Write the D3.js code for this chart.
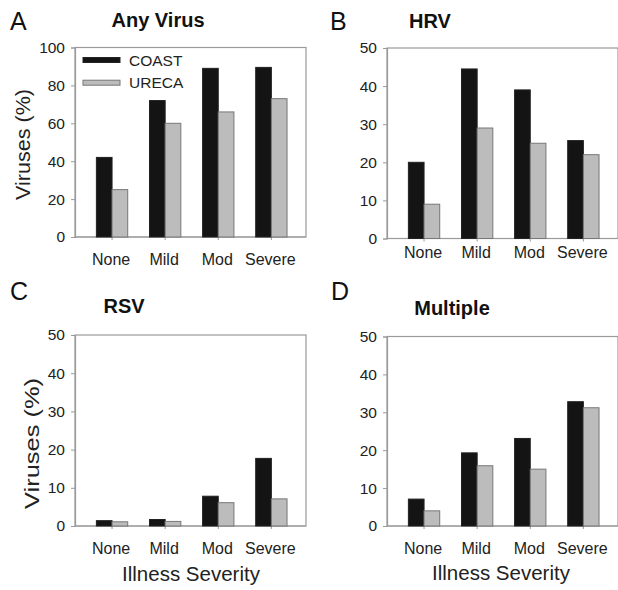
<!DOCTYPE html>
<html>
<head>
<meta charset="utf-8">
<script src="https://cdn.jsdelivr.net/npm/d3@7"></script>
<style>
  html, body { margin: 0; padding: 0; background: #fff; }
  svg { display: block; font-family: "Liberation Sans", Arial, sans-serif; }
</style>
</head>
<body>
<svg id="chart" width="618" height="590"></svg>
<script>
// ---- data ----
const categories = ["None", "Mild", "Mod", "Severe"];
const seriesNames = ["COAST", "URECA"];
const panelLetters = ["A", "B", "C", "D"];
const panelTitles = ["Any Virus", "HRV", "RSV", "Multiple"];
const yMaxes = [100, 50, 50, 50];
const yTicksA = [0, 20, 40, 60, 80, 100];
const yTicksOther = [0, 10, 20, 30, 40, 50];

const coastAny = [42, 72, 89, 89.5];
const urecaAny = [25, 60, 66, 73];
const coastHRV = [20, 44.5, 39, 25.7];
const urecaHRV = [9, 29, 25, 22];
const coastRSV = [1.4, 1.7, 7.8, 17.7];
const urecaRSV = [1.1, 1.2, 6.1, 7.1];
const coastMultiple = [7.1, 19.3, 23.1, 32.8];
const urecaMultiple = [4, 15.9, 15, 31.2];

const yLabel = "Viruses (%)";
const xLabel = "Illness Severity";

// ---- layout ----
const panels = [
  { left: 75,  right: 306, top: 47.5, bottom: 237,   coast: coastAny, ureca: urecaAny, ticks: yTicksA,
    letterX: 10, letterY: 30, titleX: 158, titleY: 27, xlabOff: 26, yLab: { x: 30, y: 144.5, size: 20, len: 111 }, legend: true },
  { left: 387, right: 618, top: 48,   bottom: 238.5, coast: coastHRV, ureca: urecaHRV, ticks: yTicksOther,
    letterX: 330, letterY: 30, titleX: 430, titleY: 28, xlabOff: 17, yLab: null },
  { left: 75,  right: 306, top: 335,  bottom: 526,   coast: coastRSV, ureca: urecaRSV, ticks: yTicksOther,
    letterX: 10, letterY: 300, titleX: 124, titleY: 313, xlabOff: 26, yLab: { x: 39, y: 443.5, size: 21, len: 131 },
    xTitle: { x: 191, y: 581 } },
  { left: 387, right: 618, top: 336.5, bottom: 526,  coast: coastMultiple, ureca: urecaMultiple, ticks: yTicksOther,
    letterX: 331, letterY: 300, titleX: 452, titleY: 315, xlabOff: 26, yLab: null,
    xTitle: { x: 501, y: 580 } }
];

const svg = d3.select("#chart");
const colors = { COAST: "#141414", URECA: "#bcbcbc" };
const strokes = { COAST: "#222", URECA: "#777" };
const frameColor = "#9a9a9a";
const textColor = "#222";

panels.forEach((p, i) => {
  const g = svg.append("g");
  const y = d3.scaleLinear().domain([0, yMaxes[i]]).range([p.bottom, p.top]);
  const x0 = d3.scaleBand().domain(categories).range([p.left, p.right])
    .paddingInner(0.41).paddingOuter(0.38).align(0.53);
  const x1 = d3.scaleBand().domain(seriesNames).range([0, x0.bandwidth()]);

  // frame
  g.append("rect")
    .attr("x", p.left).attr("y", p.top)
    .attr("width", p.right - p.left).attr("height", p.bottom - p.top)
    .attr("fill", "none").attr("stroke", frameColor).attr("stroke-width", 1.2);

  // y axis
  const yAxis = d3.axisLeft(y).tickValues(p.ticks).tickSize(4).tickPadding(6);
  const ya = g.append("g").attr("transform", `translate(${p.left},0)`).call(yAxis);
  ya.select(".domain").attr("stroke", frameColor).attr("stroke-width", 1.2);
  ya.selectAll(".tick line").attr("stroke", frameColor);
  ya.selectAll(".tick text").attr("fill", textColor)
    .style("font-size", "15.5px").style("font-family", "Liberation Sans, Arial, sans-serif");

  // x axis
  const xAxis = d3.axisBottom(x0).tickSize(3).tickPadding(p.xlabOff - 12);
  const xa = g.append("g").attr("transform", `translate(0,${p.bottom})`).call(xAxis);
  xa.select(".domain").remove();
  xa.selectAll(".tick line").attr("stroke", frameColor);
  xa.selectAll(".tick text").attr("fill", textColor)
    .style("font-size", "16px").style("font-family", "Liberation Sans, Arial, sans-serif")
    .attr("dx", "-1");
  g.append("line").attr("x1", p.left).attr("x2", p.right).attr("y1", p.bottom).attr("y2", p.bottom)
    .attr("stroke", frameColor).attr("stroke-width", 1.2);

  // bars
  const rows = categories.map((c, k) => ({ cat: c, vals: [
    { s: "COAST", v: p.coast[k] }, { s: "URECA", v: p.ureca[k] }] }));
  g.selectAll("g.grp").data(rows).join("g").attr("class", "grp")
    .attr("transform", d => `translate(${x0(d.cat)},0)`)
    .selectAll("rect").data(d => d.vals).join("rect")
    .attr("x", d => x1(d.s))
    .attr("y", d => y(d.v))
    .attr("width", x1.bandwidth())
    .attr("height", d => y(0) - y(d.v))
    .attr("fill", d => colors[d.s])
    .attr("stroke", d => strokes[d.s])
    .attr("stroke-width", 1);

  // panel letter
  g.append("text").attr("x", p.letterX).attr("y", p.letterY)
    .attr("fill", "#111").style("font-size", "25px").text(panelLetters[i]);

  // title
  g.append("text").attr("x", p.titleX).attr("y", p.titleY).attr("text-anchor", "middle")
    .attr("fill", "#111").style("font-size", "20px").style("font-weight", "bold").text(panelTitles[i]);

  // y label
  if (p.yLab) {
    g.append("text")
      .attr("transform", `translate(${p.yLab.x},${p.yLab.y}) rotate(-90)`)
      .attr("text-anchor", "middle").attr("fill", textColor)
      .attr("textLength", p.yLab.len).attr("lengthAdjust", "spacingAndGlyphs")
      .style("font-size", p.yLab.size + "px").text(yLabel);
  }

  // x title
  if (p.xTitle) {
    g.append("text").attr("x", p.xTitle.x).attr("y", p.xTitle.y).attr("text-anchor", "middle")
      .attr("fill", textColor).style("font-size", "20.5px").text(xLabel);
  }

  // legend
  if (p.legend) {
    const leg = g.append("g");
    seriesNames.forEach((s, k) => {
      const ly = 60 + k * 22.7;
      leg.append("rect").attr("x", 83).attr("y", ly - 2.5).attr("width", 37).attr("height", 5)
        .attr("fill", colors[s]).attr("stroke", strokes[s]).attr("stroke-width", 1);
      leg.append("text").attr("x", 129).attr("y", ly).attr("dy", "0.36em")
        .attr("fill", textColor).style("font-size", "15.5px").text(s);
    });
  }
});
</script>
</body>
</html>
